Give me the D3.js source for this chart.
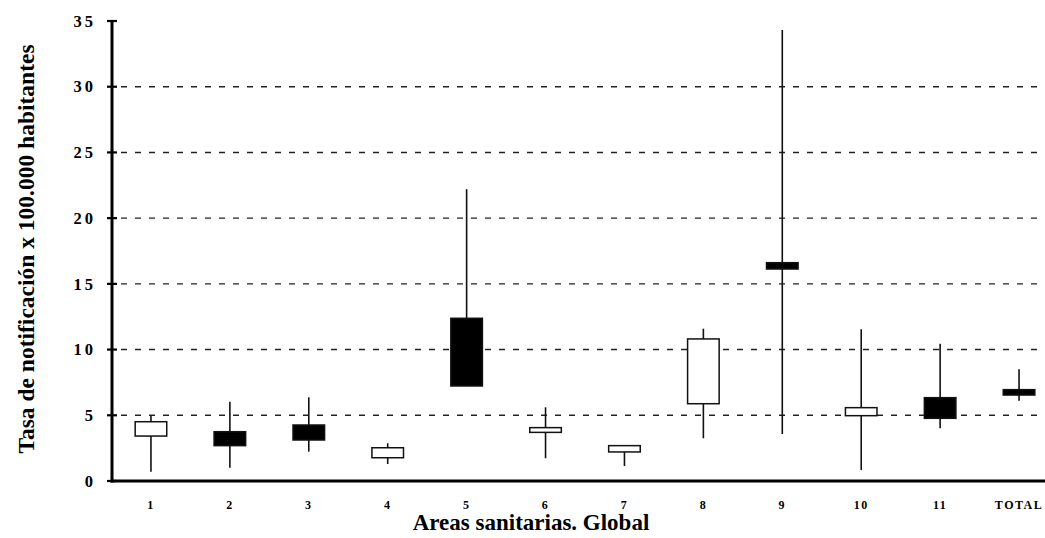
<!DOCTYPE html>
<html>
<head>
<meta charset="utf-8">
<script src="https://cdn.jsdelivr.net/npm/d3@7"></script>
<style>
  html, body { margin: 0; padding: 0; background: #fff; }
  svg { display: block; }
  text { font-family: "Liberation Serif", "Times New Roman", serif; font-weight: bold; fill: #000; }
</style>
</head>
<body>
<div id="chart"></div>
<script>
const categories = ["1","2","3","4","5","6","7","8","9","10","11","TOTAL"];
const highs  = [4.95, 6.03, 6.37, 2.87, 22.2, 5.61, 2.69, 11.59, 34.32, 11.55, 10.45, 8.5];
const lows   = [0.7, 1.01, 2.23, 1.29, 7.23, 1.73, 1.14, 3.25, 3.58, 0.84, 4.01, 6.11];
const boxTop = [4.51, 3.75, 4.26, 2.53, 12.38, 4.06, 2.69, 10.81, 16.61, 5.58, 6.34, 6.95];
const boxBot = [3.42, 2.69, 3.12, 1.77, 7.23, 3.70, 2.21, 5.88, 16.13, 4.97, 4.77, 6.54];
const filled = [false, true, true, false, true, false, false, false, true, false, true, true];
const yTicks = [0, 5, 10, 15, 20, 25, 30, 35];

const W = 1045, H = 538;
const svg = d3.select("#chart").append("svg").attr("width", W).attr("height", H);

const y = d3.scaleLinear().domain([0, 35]).range([481, 21]);
const x = d3.scaleBand().domain(categories).range([111.5, 1058.5]).paddingInner(0.6).paddingOuter(0.3);
const cx = d => x(d) + x.bandwidth() / 2;

// grid lines
svg.append("g").selectAll("line").data(yTicks.filter(t => t > 0 && t < 35)).join("line")
  .attr("x1", 121).attr("x2", W)
  .attr("y1", d => y(d)).attr("y2", d => y(d))
  .attr("stroke", "#222").attr("stroke-width", 1.4).attr("stroke-dasharray", "6,8");

// y axis
const yAxis = d3.axisLeft(y).tickValues(yTicks).tickSize(0).tickPadding(16);
const gy = svg.append("g").attr("transform", "translate(112,0)").call(yAxis);
gy.select(".domain").remove();
gy.selectAll("text").style("font-size", "16.5px").style("font-family", "'Liberation Serif', serif").style("font-weight", "bold").style("letter-spacing", "3px");
svg.append("line").attr("x1", 112).attr("x2", 112).attr("y1", y(35)).attr("y2", y(0) + 1.5)
  .attr("stroke", "#000").attr("stroke-width", 3);
svg.append("g").selectAll("line").data(yTicks).join("line")
  .attr("x1", 107).attr("x2", 117).attr("y1", d => y(d)).attr("y2", d => y(d))
  .attr("stroke", "#000").attr("stroke-width", 2.2);

// x axis
svg.append("line").attr("x1", 110.5).attr("x2", W).attr("y1", y(0)).attr("y2", y(0))
  .attr("stroke", "#000").attr("stroke-width", 3);
const xAxis = d3.axisBottom(x).tickSize(0).tickPadding(19);
const gx = svg.append("g").attr("transform", `translate(0,${y(0)})`).call(xAxis);
gx.select(".domain").remove();
gx.selectAll("text").style("font-size", "12px").style("font-family", "'Liberation Serif', serif").style("font-weight", "bold").style("letter-spacing", "1.5px");

// whiskers
const data = categories.map((c, i) => ({c, hi: highs[i], lo: lows[i], top: boxTop[i], bot: boxBot[i], f: filled[i]}));
svg.append("g").selectAll("line").data(data).join("line")
  .attr("x1", d => cx(d.c)).attr("x2", d => cx(d.c))
  .attr("y1", d => y(d.hi)).attr("y2", d => y(d.lo))
  .attr("stroke", "#111").attr("stroke-width", 1.6);

// boxes
svg.append("g").selectAll("rect").data(data).join("rect")
  .attr("x", d => x(d.c)).attr("width", x.bandwidth())
  .attr("y", d => y(d.top)).attr("height", d => y(d.bot) - y(d.top))
  .attr("fill", d => d.f ? "#000" : "#fff")
  .attr("stroke", "#111").attr("stroke-width", 1.5);

// titles
svg.append("text").attr("x", 531).attr("y", 530).attr("text-anchor", "middle")
  .style("font-size", "23px").text("Areas sanitarias. Global");
svg.append("text").attr("transform", "translate(34,249) rotate(-90)").attr("text-anchor", "middle")
  .style("font-size", "23.5px").text("Tasa de notificación x 100.000 habitantes");
</script>
</body>
</html>
